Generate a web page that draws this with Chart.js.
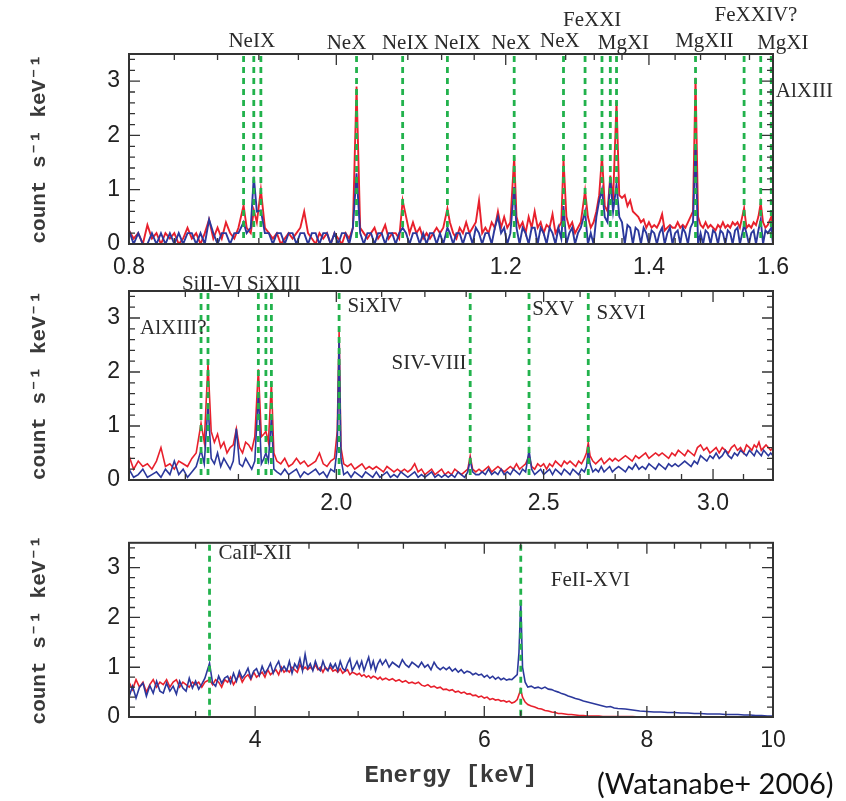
<!DOCTYPE html>
<html>
<head>
<meta charset="utf-8">
<script src="https://cdn.jsdelivr.net/npm/chart.js@4.4.0/dist/chart.umd.min.js"></script>
<style>
  body { margin: 0; background: #fff; }
  #wrap { position: relative; width: 846px; height: 801px; overflow: hidden; }
  canvas { position: absolute; left: 0; }
  #cite { position: absolute; left: 597px; top: 768px; font: 29px Lato, sans-serif; color: #111; white-space: nowrap; line-height: 1; }
</style>
</head>
<body>
<div id="wrap">
  <canvas id="p1" width="846" height="285" style="top:0px;width:846px;height:285px"></canvas>
  <canvas id="p2" width="846" height="258" style="top:262px;width:846px;height:258px"></canvas>
  <canvas id="p3" width="846" height="281" style="top:520px;width:846px;height:281px"></canvas>
  <div id="cite">(Watanabe+ 2006)</div>
</div>
<script>
// ---- panel 1 : 0.8 - 1.6 keV ----
const energy1 = [
  0.800,0.804,0.808,0.812,0.816,0.820,0.824,0.828,0.832,0.836,
  0.840,0.844,0.848,0.852,0.856,0.860,0.864,0.868,0.872,0.876,
  0.880,0.884,0.888,0.892,0.896,0.900,0.905,0.908,0.912,0.915,
  0.918,0.922,0.926,0.930,0.934,0.938,0.942,0.946,0.950,0.954,
  0.958,0.962,0.966,0.970,0.974,0.978,0.982,0.986,0.990,0.994,
  0.998,1.002,1.006,1.010,1.014,1.018,1.022,1.026,1.030,1.034,
  1.038,1.042,1.046,1.050,1.054,1.058,1.062,1.066,1.070,1.074,
  1.078,1.082,1.086,1.090,1.094,1.098,1.102,1.106,1.110,1.114,
  1.118,1.122,1.127,1.130,1.134,1.138,1.142,1.146,1.150,1.154,
  1.158,1.162,1.166,1.170,1.174,1.178,1.182,1.186,1.190,1.194,
  1.198,1.202,1.206,1.211,1.214,1.218,1.222,1.226,1.230,1.234,
  1.238,1.242,1.246,1.250,1.254,1.258,1.262,1.266,1.270,1.274,
  1.277,1.281,1.285,1.289,1.293,1.297,1.301,1.307,1.311,1.315,
  1.319,1.323,1.327,1.331,1.335,1.339,1.343,1.347,1.352,1.356,
  1.360,1.364,1.368,1.372,1.376,1.380,1.384,1.388,1.392,1.396,
  1.400,1.404,1.408,1.412,1.416,1.420,1.424,1.428,1.432,1.436,
  1.440,1.444,1.448,1.452,1.456,1.460,1.464,1.468,1.472,1.476,
  1.480,1.484,1.488,1.492,1.496,1.500,1.504,1.508,1.512,1.516,
  1.520,1.524,1.528,1.532,1.536,1.540,1.544,1.551,1.555,1.559,
  1.563,1.567,1.571,1.575,1.579,1.583,1.587,1.591,1.597,1.600
];
const red1 = [
  0.25,0.1,0.2,0.0,0.35,0.1,0.2,0.0,0.2,0.1,
  0.2,0.0,0.1,0.3,0.1,0.2,0.0,0.2,0.45,0.1,
  0.3,0.1,0.4,0.2,0.1,0.3,0.71,0.3,0.2,0.62,
  0.4,1.0,0.3,0.2,0.1,0.2,0.0,0.1,0.2,0.1,
  0.2,0.3,0.6,0.2,0.1,0.0,0.2,0.1,0.2,0.0,
  0.2,0.1,0.0,0.2,0.1,0.3,2.9,0.3,0.2,0.1,
  0.2,0.3,0.1,0.2,0.35,0.1,0.2,0.2,0.1,0.8,
  0.5,0.2,0.4,0.2,0.3,0.1,0.2,0.1,0.2,0.3,
  0.2,0.3,0.65,0.4,0.2,0.1,0.3,0.2,0.4,0.2,
  0.3,0.4,0.8,0.2,0.3,0.2,0.4,0.3,0.6,0.3,
  0.5,0.3,0.4,1.6,0.5,0.3,0.4,0.2,0.5,0.3,
  0.6,0.3,0.4,0.2,0.35,0.3,0.55,0.2,0.3,0.4,
  1.56,0.5,0.3,0.4,0.2,0.3,0.4,0.98,0.5,0.3,
  0.4,0.6,0.9,1.62,0.7,0.6,1.26,0.8,2.62,0.9,
  0.85,0.9,0.7,0.8,0.6,0.55,0.5,0.4,0.45,0.3,
  0.4,0.3,0.35,0.3,0.4,0.55,0.25,0.3,0.35,0.3,
  0.3,0.4,0.3,0.35,0.3,0.4,0.5,0.6,3.06,0.5,
  0.35,0.3,0.4,0.3,0.35,0.3,0.25,0.35,0.3,0.4,
  0.3,0.35,0.3,0.4,0.35,0.4,0.3,0.66,0.3,0.35,
  0.3,0.4,0.35,0.5,0.75,0.4,0.3,0.35,0.5,0.3
];
const blue1 = [
  0.25,0.0,0.2,0.0,0.0,0.2,0.0,0.2,0.0,0.2,
  0.0,0.2,0.0,0.2,0.2,0.0,0.2,0.0,0.45,0.2,
  0.0,0.2,0.2,0.0,0.2,0.2,0.4,0.2,0.3,1.24,
  0.6,0.62,0.2,0.2,0.0,0.2,0.2,0.0,0.2,0.2,
  0.0,0.2,0.2,0.0,0.2,0.2,0.0,0.2,0.2,0.0,
  0.2,0.0,0.2,0.2,0.0,0.3,1.3,0.2,0.0,0.2,
  0.2,0.0,0.2,0.2,0.0,0.2,0.2,0.0,0.2,0.3,
  0.2,0.0,0.2,0.2,0.0,0.2,0.0,0.2,0.2,0.0,
  0.2,0.0,0.3,0.2,0.0,0.2,0.2,0.0,0.2,0.2,
  0.0,0.3,0.2,0.0,0.2,0.2,0.0,0.3,0.5,0.2,
  0.3,0.0,0.2,1.05,0.3,0.0,0.3,0.2,0.0,0.3,
  0.3,0.0,0.3,0.2,0.0,0.3,0.2,0.0,0.3,0.1,
  0.7,0.0,0.2,0.3,0.0,0.2,0.3,0.6,0.0,0.2,
  0.0,0.5,0.8,1.0,0.5,0.4,1.19,0.6,1.1,0.5,
  0.4,0.0,0.35,0.3,0.0,0.3,0.25,0.0,0.3,0.2,
  0.0,0.25,0.2,0.0,0.2,0.3,0.0,0.2,0.3,0.0,
  0.2,0.25,0.0,0.3,0.2,0.0,0.3,0.4,1.84,0.0,
  0.2,0.0,0.25,0.2,0.0,0.25,0.2,0.0,0.25,0.2,
  0.0,0.25,0.2,0.0,0.25,0.3,0.0,0.35,0.2,0.0,
  0.2,0.25,0.0,0.25,0.45,0.0,0.25,0.2,0.3,0.0
];

// ---- panel 2 : 1.6 - 3.2 keV ----
const energy2 = [
  1.600,1.608,1.616,1.624,1.632,1.640,1.648,1.656,1.664,1.672,
  1.680,1.688,1.696,1.704,1.712,1.720,1.729,1.735,1.742,1.748,
  1.754,1.760,1.766,1.772,1.778,1.784,1.790,1.796,1.802,1.808,
  1.814,1.820,1.826,1.832,1.839,1.845,1.850,1.854,1.859,1.865,
  1.870,1.876,1.884,1.892,1.900,1.908,1.916,1.924,1.932,1.940,
  1.948,1.956,1.964,1.972,1.980,1.988,1.996,2.002,2.006,2.010,
  2.016,2.024,2.032,2.040,2.048,2.056,2.064,2.072,2.080,2.088,
  2.096,2.104,2.112,2.120,2.128,2.136,2.144,2.152,2.160,2.168,
  2.176,2.184,2.192,2.200,2.208,2.216,2.224,2.232,2.240,2.248,
  2.256,2.264,2.272,2.280,2.288,2.296,2.304,2.310,2.316,2.324,
  2.332,2.340,2.348,2.356,2.364,2.372,2.380,2.388,2.396,2.404,
  2.412,2.420,2.428,2.436,2.444,2.452,2.461,2.468,2.476,2.484,
  2.492,2.500,2.508,2.516,2.524,2.532,2.540,2.548,2.556,2.564,
  2.572,2.580,2.588,2.596,2.604,2.612,2.618,2.623,2.628,2.636,
  2.644,2.652,2.660,2.668,2.676,2.684,2.692,2.700,2.710,2.720,
  2.730,2.740,2.750,2.760,2.770,2.780,2.790,2.800,2.810,2.820,
  2.830,2.840,2.850,2.860,2.870,2.880,2.890,2.900,2.910,2.920,
  2.930,2.940,2.950,2.960,2.970,2.980,2.990,3.000,3.010,3.020,
  3.030,3.040,3.050,3.060,3.070,3.080,3.090,3.100,3.110,3.120,
  3.128,3.136,3.144,3.152,3.160,3.168,3.176,3.184,3.192,3.200
];
const red2 = [
  0.45,0.2,0.35,0.25,0.3,0.2,0.35,0.6,0.25,0.3,
  0.2,0.35,0.3,0.25,0.4,0.5,1.05,0.7,2.15,0.9,
  0.7,0.85,0.6,0.7,0.5,0.6,0.65,0.95,0.6,0.5,
  0.7,0.65,0.55,0.8,2.05,0.8,0.85,0.9,0.7,1.8,
  0.5,0.35,0.3,0.4,0.25,0.3,0.4,0.3,0.35,0.25,
  0.3,0.35,0.5,0.3,0.25,0.35,0.4,0.9,2.75,0.6,
  0.3,0.25,0.3,0.2,0.25,0.3,0.2,0.25,0.2,0.25,
  0.2,0.15,0.25,0.2,0.15,0.2,0.15,0.2,0.15,0.2,
  0.3,0.15,0.2,0.1,0.15,0.2,0.1,0.15,0.2,0.1,
  0.15,0.1,0.2,0.15,0.1,0.15,0.2,0.44,0.2,0.15,
  0.2,0.15,0.2,0.25,0.15,0.2,0.25,0.2,0.15,0.2,
  0.25,0.2,0.3,0.2,0.25,0.3,0.45,0.25,0.2,0.3,
  0.25,0.3,0.2,0.3,0.25,0.35,0.3,0.25,0.35,0.3,
  0.35,0.3,0.25,0.35,0.3,0.4,0.5,0.69,0.45,0.35,
  0.3,0.35,0.4,0.3,0.35,0.4,0.35,0.4,0.35,0.4,
  0.45,0.4,0.35,0.45,0.4,0.45,0.5,0.4,0.45,0.5,
  0.45,0.5,0.45,0.4,0.5,0.45,0.55,0.5,0.45,0.55,
  0.5,0.45,0.6,0.65,0.55,0.6,0.5,0.55,0.6,0.5,
  0.6,0.55,0.5,0.6,0.65,0.55,0.6,0.5,0.65,0.6,
  0.55,0.65,0.6,0.7,0.55,0.6,0.65,0.6,0.55,0.6
];
const blue2 = [
  0.2,0.05,0.1,0.2,0.05,0.1,0.15,0.05,0.2,0.1,
  0.35,0.1,0.2,0.05,0.15,0.25,0.55,0.3,1.4,0.4,
  0.3,0.5,0.25,0.4,0.3,0.2,0.35,0.95,0.3,0.25,
  0.4,0.3,0.2,0.35,1.6,0.3,0.4,0.5,0.35,1.15,
  0.2,0.15,0.1,0.2,0.1,0.15,0.2,0.05,0.15,0.1,
  0.15,0.2,0.1,0.15,0.05,0.2,0.15,0.6,2.65,0.4,
  0.1,0.15,0.05,0.15,0.1,0.05,0.15,0.1,0.05,0.15,
  0.05,0.1,0.15,0.05,0.1,0.05,0.15,0.1,0.05,0.1,
  0.15,0.05,0.1,0.05,0.1,0.15,0.05,0.1,0.05,0.1,
  0.05,0.1,0.05,0.15,0.1,0.05,0.15,0.38,0.15,0.1,
  0.1,0.15,0.1,0.2,0.1,0.15,0.1,0.2,0.1,0.15,
  0.1,0.2,0.15,0.1,0.2,0.15,0.55,0.2,0.1,0.15,
  0.2,0.1,0.15,0.2,0.1,0.2,0.15,0.1,0.2,0.15,
  0.1,0.2,0.15,0.1,0.2,0.15,0.25,0.55,0.3,0.15,
  0.2,0.15,0.25,0.15,0.2,0.25,0.15,0.2,0.25,0.2,
  0.15,0.25,0.2,0.3,0.2,0.25,0.2,0.3,0.25,0.2,
  0.3,0.25,0.2,0.3,0.25,0.3,0.25,0.3,0.35,0.3,
  0.25,0.35,0.3,0.45,0.4,0.35,0.45,0.4,0.5,0.4,
  0.45,0.55,0.45,0.4,0.5,0.45,0.55,0.5,0.45,0.55,
  0.5,0.45,0.55,0.5,0.45,0.55,0.5,0.45,0.5,0.45
];

// ---- panel 3 : 3.2 - 10 keV ----
const energy3 = [
  3.20,3.22,3.24,3.26,3.28,3.30,3.32,3.34,3.36,3.38,
  3.40,3.42,3.44,3.46,3.48,3.50,3.52,3.54,3.56,3.58,
  3.60,3.62,3.64,3.66,3.69,3.71,3.73,3.75,3.77,3.79,
  3.81,3.83,3.85,3.87,3.89,3.91,3.93,3.95,3.97,3.99,
  4.01,4.03,4.05,4.07,4.09,4.11,4.13,4.15,4.17,4.19,
  4.21,4.23,4.25,4.27,4.29,4.31,4.33,4.35,4.37,4.39,
  4.41,4.43,4.45,4.47,4.49,4.51,4.53,4.55,4.57,4.59,
  4.61,4.63,4.65,4.67,4.69,4.71,4.73,4.75,4.77,4.79,
  4.81,4.83,4.85,4.87,4.89,4.91,4.93,4.95,4.97,4.99,
  5.01,5.04,5.07,5.10,5.13,5.16,5.19,5.22,5.25,5.28,
  5.31,5.34,5.37,5.40,5.43,5.46,5.49,5.52,5.55,5.58,
  5.61,5.64,5.67,5.70,5.73,5.76,5.79,5.82,5.85,5.88,
  5.91,5.94,5.97,6.00,6.03,6.06,6.09,6.12,6.15,6.18,
  6.21,6.24,6.27,6.30,6.33,6.36,6.38,6.40,6.42,6.45,
  6.48,6.52,6.56,6.60,6.64,6.68,6.72,6.76,6.80,6.84,
  6.88,6.92,6.96,7.00,7.05,7.10,7.15,7.20,7.25,7.30,
  7.35,7.40,7.45,7.50,7.55,7.60,7.70,7.80,7.90,8.00,
  8.10,8.20,8.30,8.40,8.50,8.60,8.70,8.80,8.90,9.00,
  9.10,9.20,9.30,9.40,9.50,9.60,9.70,9.80,9.90,10.00
];
const red3 = [
  0.7,0.55,0.75,0.6,0.7,0.5,0.65,0.75,0.6,0.7,
  0.65,0.75,0.6,0.7,0.75,0.6,0.7,0.65,0.6,0.7,
  0.65,0.7,0.6,0.7,0.75,0.65,0.75,0.7,0.6,0.75,
  0.7,0.8,0.65,0.75,0.85,0.7,0.8,0.85,0.75,0.9,
  0.8,0.85,0.9,0.8,0.95,0.85,0.9,0.95,0.85,1.0,
  0.9,0.95,0.9,1.0,0.95,0.9,1.05,0.95,1.0,0.95,
  1.0,0.95,1.05,0.95,1.0,0.9,1.0,0.95,1.0,0.92,
  0.95,0.9,0.97,0.88,0.92,0.95,0.85,0.9,0.88,0.85,
  0.88,0.82,0.85,0.8,0.83,0.78,0.82,0.8,0.76,0.8,
  0.75,0.78,0.74,0.77,0.72,0.75,0.7,0.73,0.68,0.7,
  0.67,0.7,0.64,0.62,0.65,0.6,0.62,0.58,0.6,0.55,
  0.56,0.53,0.55,0.5,0.52,0.48,0.5,0.46,0.47,0.43,
  0.44,0.4,0.42,0.38,0.4,0.35,0.37,0.34,0.35,0.32,
  0.33,0.3,0.32,0.28,0.3,0.35,0.45,0.55,0.4,0.3,
  0.25,0.22,0.2,0.17,0.16,0.13,0.12,0.1,0.09,0.07,
  0.07,0.06,0.05,0.05,0.04,0.03,0.03,0.02,0.02,0.02,
  0.02,0.01,0.01,0.01,0.01,0.01,0.01,0.01,0.0,0.0,
  0.0,0.0,0.0,0.0,0.0,0.0,0.0,0.0,0.0,0.0,
  0.0,0.0,0.0,0.0,0.0,0.0,0.0,0.0,0.0,0.0
];
const blue3 = [
  0.4,0.62,0.38,0.6,0.68,0.42,0.63,0.48,0.72,0.52,
  0.48,0.68,0.52,0.62,0.46,0.72,0.58,0.52,0.78,0.58,
  0.72,0.56,0.66,0.78,1.08,0.68,0.62,0.82,0.68,0.78,
  0.82,0.68,0.88,0.72,0.92,0.78,0.86,0.98,0.78,0.92,
  0.97,0.83,1.02,0.88,0.96,1.08,0.88,1.02,1.12,0.93,
  1.02,0.93,1.12,0.88,1.07,0.98,1.17,0.93,1.26,0.98,
  1.07,0.93,1.12,0.98,0.93,1.12,0.98,0.93,1.07,0.98,
  1.07,0.93,1.12,0.98,0.93,1.07,1.17,0.93,1.02,1.12,
  0.98,1.12,0.93,1.07,1.2,0.98,1.12,0.93,1.07,1.15,
  1.05,1.15,1.0,1.1,1.05,1.0,1.15,1.05,1.0,1.1,
  1.05,1.0,1.1,1.0,1.05,0.95,1.1,1.0,0.95,1.0,
  0.95,1.0,0.92,0.97,0.9,0.95,0.88,0.92,0.9,0.85,
  0.88,0.84,0.86,0.8,0.84,0.78,0.82,0.76,0.8,0.75,
  0.78,0.74,0.76,0.75,0.8,0.85,1.3,2.33,1.0,0.7,
  0.6,0.62,0.58,0.6,0.57,0.6,0.56,0.55,0.52,0.5,
  0.47,0.45,0.42,0.4,0.37,0.35,0.32,0.3,0.28,0.26,
  0.24,0.22,0.2,0.21,0.18,0.17,0.16,0.14,0.12,0.11,
  0.1,0.1,0.09,0.09,0.08,0.08,0.07,0.07,0.06,0.06,
  0.06,0.05,0.05,0.05,0.04,0.04,0.03,0.03,0.02,0.02
];

// line identifications (keV)
const lineE1 = [0.905,0.915,0.922,1.022,1.074,1.127,1.211,1.277,1.307,1.331,1.343,1.352,1.472,1.551,1.579,1.597];
const lineE2 = [1.729,1.742,1.839,1.854,1.865,2.006,2.31,2.461,2.623];
const lineE3 = [3.69,6.40];

// tick labels
const xTickLabels1 = ['0.8','1.0','1.2','1.4','1.6'];
const xTickLabels2 = ['2.0','2.5','3.0'];
const xTickLabels3 = ['4','6','8','10'];
const yTickLabels = ['0','1','2','3'];

// minor tick positions
const xMinor1 = [0.84,0.88,0.92,0.96,1.04,1.08,1.12,1.16,1.24,1.28,1.32,1.36,1.44,1.48,1.52,1.56];
const xMinor2 = [1.7,1.8,1.9,2.1,2.2,2.3,2.4,2.6,2.7,2.8,2.9,3.1];
const xMinor3 = [3.6,4.4,4.8,5.2,5.6,6.4,6.8,7.2,7.6,8.4,8.8,9.2,9.6];
const yMinor = [0.2,0.4,0.6,0.8,1.2,1.4,1.6,1.8,2.2,2.4,2.6,2.8,3.2,3.4];

// text labels: anchor energy + page y
const labels1 = [
  {text:'NeIX', e:0.913, y:41}, {text:'NeX', e:1.011, y:43}, {text:'NeIX', e:1.077, y:43},
  {text:'NeIX', e:1.139, y:43}, {text:'NeX', e:1.207, y:43}, {text:'NeX', e:1.272, y:41},
  {text:'FeXXI', e:1.317, y:20}, {text:'MgXI', e:1.362, y:43}, {text:'MgXII', e:1.486, y:41},
  {text:'FeXXIV?', e:1.571, y:15}, {text:'MgXI', e:1.617, y:43}, {text:'AlXIII', e:1.655, y:91}
];
const labels2 = [
  {text:'SiII-VI', e:1.750, y:284}, {text:'SiXIII', e:1.870, y:284}, {text:'AlXIII?', e:1.678, y:328},
  {text:'SiXIV', e:2.085, y:306}, {text:'SIV-VIII', e:2.210, y:363}, {text:'SXV', e:2.526, y:309},
  {text:'SXVI', e:2.717, y:313}
];
const labels3 = [
  {text:'CaII-XII', e:4.0, y:553}, {text:'FeII-XVI', e:7.24, y:580}
];

const RED = '#e8202c';
const BLUE = '#2b389c';
const GREEN = '#22b24c';
const INK = '#333';

// frame, inward ticks, dashed line markers and line names
const framePlugin = {
  id: 'frame',
  afterDraw(chart, args, o) {
    const { ctx, chartArea: a, scales: { x, y } } = chart;
    const off = chart.canvas.offsetTop;
    ctx.save();

    ctx.strokeStyle = GREEN;
    ctx.lineWidth = 2.8;
    ctx.setLineDash([6, 5]);
    o.lines.forEach(e => {
      const px = x.getPixelForValue(e);
      ctx.beginPath();
      ctx.moveTo(px, a.top + 2);
      ctx.lineTo(px, a.bottom);
      ctx.stroke();
    });
    ctx.setLineDash([]);

    ctx.strokeStyle = INK;
    ctx.lineWidth = 1.3;
    const xt = (v, len) => {
      const px = x.getPixelForValue(v);
      ctx.beginPath();
      ctx.moveTo(px, a.bottom); ctx.lineTo(px, a.bottom - len);
      ctx.moveTo(px, a.top); ctx.lineTo(px, a.top + len);
      ctx.stroke();
    };
    const yt = (v, len) => {
      const py = y.getPixelForValue(v);
      ctx.beginPath();
      ctx.moveTo(a.left, py); ctx.lineTo(a.left + len, py);
      ctx.moveTo(a.right, py); ctx.lineTo(a.right - len, py);
      ctx.stroke();
    };
    o.xMajor.forEach(v => xt(v, 11));
    o.xMinor.forEach(v => xt(v, 6));
    [1, 2, 3].forEach(v => yt(v, 11));
    yMinor.forEach(v => yt(v, 6));

    ctx.lineWidth = 2;
    ctx.strokeRect(a.left, a.top, a.right - a.left, a.bottom - a.top);

    ctx.fillStyle = '#2a2a2a';
    ctx.font = '21px "Liberation Serif", serif';
    ctx.textAlign = 'center';
    ctx.textBaseline = 'middle';
    o.labels.forEach(l => ctx.fillText(l.text, x.getPixelForValue(l.e), l.y - off));
    ctx.restore();
  }
};

function makePanel(id, p) {
  const xVals = p.xTickLabels.map(Number);
  const yVals = yTickLabels.map(Number);
  return new Chart(document.getElementById(id), {
    type: 'line',
    data: {
      datasets: [
        { data: p.energy.map((e, i) => ({ x: e, y: p.blue[i] })), borderColor: BLUE, borderWidth: p.lw, order: 1 },
        { data: p.energy.map((e, i) => ({ x: e, y: p.red[i] })), borderColor: RED, borderWidth: p.lw, order: 2 }
      ]
    },
    options: {
      responsive: false,
      animation: false,
      layout: { padding: { top: p.padTop, right: 73, left: 20, bottom: 0 } },
      elements: { point: { radius: 0 }, line: { tension: 0 } },
      plugins: {
        legend: { display: false },
        tooltip: { enabled: false },
        frame: { lines: p.lines, labels: p.labels, xMajor: p.xMajor, xMinor: p.xMinor }
      },
      scales: {
        x: {
          type: 'logarithmic', min: p.min, max: p.max, bounds: 'data',
          afterBuildTicks: s => { s.ticks = xVals.map(v => ({ value: v })); },
          afterFit: s => { s.height = p.xAxisH; },
          grid: { display: false, drawTicks: false },
          border: { display: false },
          ticks: {
            autoSkip: false, maxRotation: 0, padding: 10, color: '#222',
            font: { family: '"Liberation Sans", Arial, sans-serif', size: 23 },
            callback: (v, i) => p.xTickLabels[i]
          },
          title: {
            display: !!p.xTitle, text: p.xTitle || '', color: '#3a3a3a',
            font: { family: '"Liberation Mono", monospace', size: 24, weight: 'bold' },
            padding: { top: 0, bottom: 11 }
          }
        },
        y: {
          min: 0, max: 3.5,
          afterBuildTicks: s => { s.ticks = yVals.map(v => ({ value: v })); },
          afterFit: s => { s.width = 109; },
          grid: { display: false, drawTicks: false },
          border: { display: false },
          ticks: {
            padding: 9, color: '#222',
            font: { family: '"Liberation Sans", Arial, sans-serif', size: 23 },
            callback: (v, i) => yTickLabels[i]
          },
          title: {
            display: true, text: 'count s⁻¹ keV⁻¹', color: '#3a3a3a',
            font: { family: '"Liberation Mono", "DejaVu Sans Mono", monospace', size: 21, weight: 'bold' },
            padding: { top: 7, bottom: 0 }
          }
        }
      }
    },
    plugins: [framePlugin]
  });
}

makePanel('p1', {
  energy: energy1, red: red1, blue: blue1, lw: 1.9,
  min: 0.8, max: 1.6, padTop: 54, xAxisH: 41,
  xTickLabels: xTickLabels1, xMajor: [1.0, 1.2, 1.4], xMinor: xMinor1,
  lines: lineE1, labels: labels1
});
makePanel('p2', {
  energy: energy2, red: red2, blue: blue2, lw: 1.6,
  min: 1.6, max: 3.2, padTop: 29, xAxisH: 40,
  xTickLabels: xTickLabels2, xMajor: [2.0, 2.5, 3.0], xMinor: xMinor2,
  lines: lineE2, labels: labels2
});
makePanel('p3', {
  energy: energy3, red: red3, blue: blue3, lw: 1.6,
  min: 3.2, max: 10, padTop: 7, xAxisH: 84,
  xTickLabels: xTickLabels3, xMajor: [4, 6, 8], xMinor: xMinor3,
  lines: lineE3, labels: labels3, xTitle: 'Energy [keV]'
});
</script>
</body>
</html>
